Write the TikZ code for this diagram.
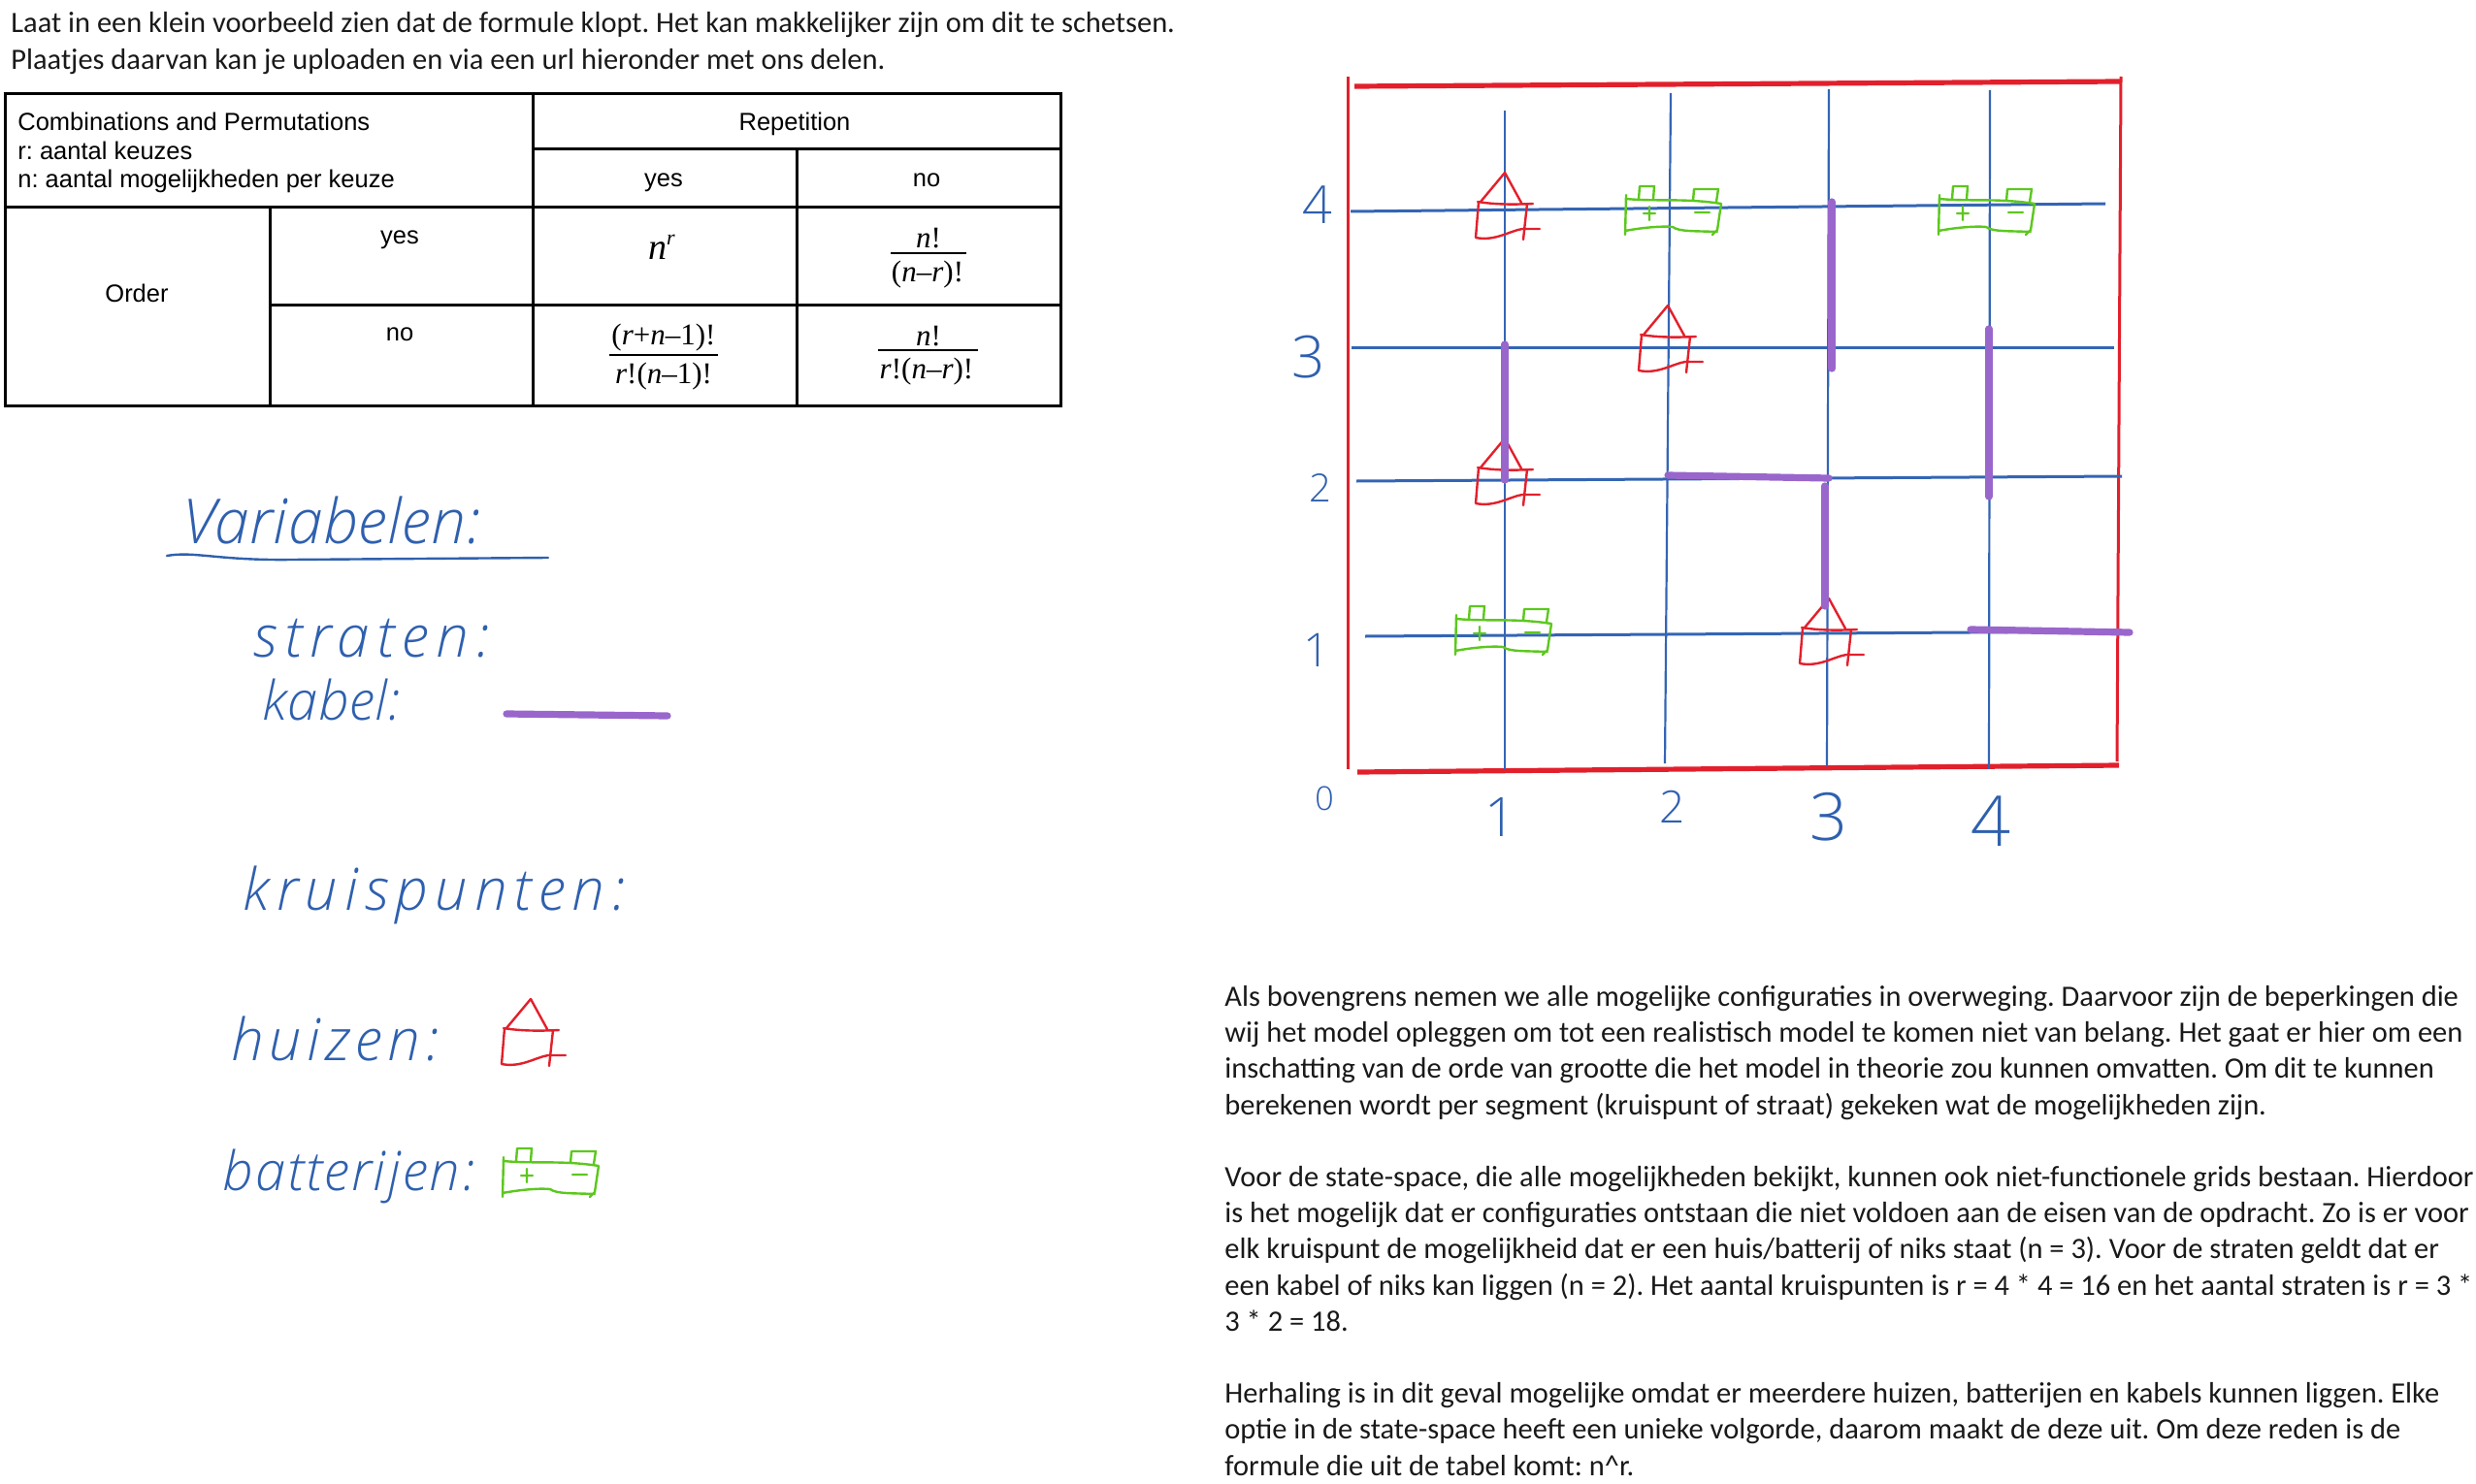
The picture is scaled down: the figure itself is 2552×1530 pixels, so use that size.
\documentclass[tikz,border=0pt]{standalone}
\usepackage{fontspec}
\usepackage{amsmath}
\setmainfont{Carlito}
\newfontfamily\tablefont{Liberation Sans}
\newfontfamily\formulafont{Liberation Serif}
\newfontfamily\handfont[UprightFont=* Light,ItalicFont=* Light Italic]{Open Sans}
\usetikzlibrary{positioning}
\definecolor{handblue}{HTML}{2F60AE}
\definecolor{gridblue}{HTML}{3465B4}
\definecolor{framered}{HTML}{E2202C}
\definecolor{cablepurple}{HTML}{9966CC}
\definecolor{batterygreen}{HTML}{5CC81E}
\tikzset{
  bodytext/.style={anchor=base west,inner sep=0pt,align=left,text=black!90,
    font=\frenchspacing\fontsize{15.23}{18.6}\selectfont},
  celltext/.style={anchor=base,inner sep=0pt,font=\frenchspacing\tablefont\fontsize{12.75}{15}\selectfont},
  formula/.style={anchor=base,inner sep=0pt,font=\formulafont\fontsize{15.5}{18}\selectfont},
  tableline/.style={draw=black,line width=1.5pt},
  hand/.style 2 args={anchor=base west,inner sep=0pt,text=handblue,
    font=\handfont\itshape\fontsize{#1}{#1}\selectfont\addfontfeature{LetterSpace=#2}},
  axislabel/.style={anchor=center,inner sep=0pt,text=handblue,
    font=\handfont\fontsize{#1}{#1}\selectfont},
  street/.style={draw=gridblue,line width=1.1pt},
  streeth/.style={draw=gridblue,line width=1.5pt},
  frameline/.style={draw=framered,line width=#1},
  cable/.style={draw=cablepurple,line width=3.6pt,line cap=round},
  huis/.pic={
    \draw[framered,line width=1.2pt,line cap=round,line join=round]
      (-25,30) -- (0,0) -- (17,31)
      (-28,30) .. controls (-10,33) and (10,33) .. (29,32)
      (-27,30) -- (-30,67)
      (23,32) -- (19,69)
      (-30,67) .. controls (-10,71) and (5,60) .. (18,58) -- (36,58);
  },
  batterij/.pic={
    \draw[batterygreen,line width=1.2pt,line cap=round,line join=round]
      (0,-4) -- (-1,37)
      (0,0) .. controls (30,3) and (60,-1) .. (98,5)
      (98,5) -- (94,32) -- (89,37)
      (-1,33) .. controls (20,29) and (40,28) .. (48,29) .. controls (55,34) and (70,33) .. (94,34)
      (13,0) -- (14,-13) -- (29,-13) -- (28,0)
      (69,2) -- (70,-10) -- (95,-10) -- (93,3)
      (18,15) -- (30,15) (24,8) -- (24,22)
      (71,14) -- (86,14);
  },
}
\begin{document}
\begin{tikzpicture}[x=0.5pt,y=-0.5pt]
  \useasboundingbox (0,0) rectangle (2552,1530);
  \clip (0,0) rectangle (2552,1530);

  % Text above the table
  \node[bodytext] (intro) at (11,34) {Laat in een klein voorbeeld zien dat de formule klopt. Het kan makkelijker zijn om dit te schetsen.};
  \node[bodytext] (introb) at (11,72) {Plaatjes daarvan kan je uploaden en via een url hieronder met ons delen.};

  % Table lines
  \path[tableline] (5,97) rectangle (1093,418);
  \path[tableline] (549,97) -- (549,418)
    (821,154) -- (821,418)
    (278,214) -- (278,418)
    (549,154) -- (1093,154)
    (5,214) -- (1093,214)
    (278,314) -- (1093,314);

  % Table texts
  \node[celltext,anchor=base west] (titel) at (18,135) {Combinations and Permutations};
  \node[celltext,anchor=base west] (keuzes) at (18,165) {r: aantal keuzes};
  \node[celltext,anchor=base west] (mogelijk) at (18,194) {n: aantal mogelijkheden per keuze};
  \node[celltext] (rep) at (819,135) {Repetition};
  \node[celltext] (repyes) at (684,193) {yes};
  \node[celltext] (repno) at (955,193) {no};
  \node[celltext] (order) at (141,311) {Order};
  \node[celltext] (ordyes) at (412,251) {yes};
  \node[celltext] (ordno) at (412,351) {no};

  % Formulas
  \node[formula,font=\formulafont\fontsize{19}{22}\selectfont] (nr) at (682,268) {\textit{n\raisebox{8pt}{\fontsize{11}{12}\selectfont r}}};
  \node[formula] (fana) at (957,256) {\textit{n}!};
  \node[formula] (fand) at (956,290) {(\textit{n}–\textit{r})!};
  \node[formula] (fbna) at (684,355) {(\textit{r}+\textit{n}–1)!};
  \node[formula] (fbnd) at (684,395) {\textit{r}!(\textit{n}–1)!};
  \node[formula] (fcna) at (957,356) {\textit{n}!};
  \node[formula] (fcnd) at (955,390) {\textit{r}!(\textit{n}–\textit{r})!};
  \draw[line width=1.1pt] (918,261) -- (996,261);
  \draw[line width=1.1pt] (628,366) -- (740,366);
  \draw[line width=1.1pt] (905,361) -- (1008,361);

  % Left column
  \node[hand={32}{1}] (variabelen) at (188,560) {Variabelen:};
  \coordinate (ula) at (172,573);
  \coordinate (ulb) at (565,575);
  \draw[handblue,line width=1.2pt,line cap=round] (ula) .. controls (200,568) and (225,578) .. (300,577) -- (ulb);
  \node[hand={30}{13}] (straten) at (261,677) {straten:};
  \node[hand={28}{1}] (kabel) at (270,742) {kabel:};
  \coordinate (kabela) at (522,736);
  \coordinate (kabelb) at (688,738);
  \draw[cable] (kabela) -- (kabelb);
  \node[hand={30}{12}] (kruispunten) at (250,938) {kruispunten:};
  \node[hand={30}{9}] (huizen) at (238,1093) {huizen:};
  \node[hand={28}{4}] (batterijen) at (229,1227) {batterijen:};
  \pic (huislegend) at (547,1030) {huis};
  \pic (batlegend) at (519,1197) {batterij};

  % Frame corners and street ends
  \coordinate (fla) at (1389,79);
  \coordinate (flb) at (1389,793);
  \coordinate (fra) at (2186,79);
  \coordinate (frb) at (2182,785);
  \coordinate (fta) at (1396,89);
  \coordinate (ftb) at (2186,84);
  \coordinate (fba) at (1399,796);
  \coordinate (fbb) at (2184,789);
  \coordinate (va) at (1551,114);
  \coordinate (vb) at (1551,793);
  \coordinate (wa) at (1722,96);
  \coordinate (wb) at (1716,787);
  \coordinate (xa) at (1885,92);
  \coordinate (xb) at (1883,790);
  \coordinate (ya) at (2051,93);
  \coordinate (yb) at (2050,793);
  \coordinate (ha) at (1392,218);
  \coordinate (hb) at (2170,210);
  \coordinate (ia) at (1393,358);
  \coordinate (ib) at (2179,358);
  \coordinate (ja) at (1398,496);
  \coordinate (jb) at (2187,491);
  \coordinate (ka) at (1407,656);
  \coordinate (kb) at (2185,651);

  % Draw frame and streets
  \path
    (fla) edge[frameline=1.5pt] (flb)
    (fra) edge[frameline=1.5pt] (frb)
    (fta) edge[frameline=2.6pt] (ftb)
    (fba) edge[frameline=2.6pt] (fbb)
    (va) edge[street] (vb)
    (wa) edge[street] (wb)
    (xa) edge[street] (xb)
    (ya) edge[street] (yb)
    (ha) edge[streeth] (hb)
    (ia) edge[streeth] (ib)
    (ja) edge[streeth] (jb)
    (ka) edge[streeth] (kb);

  % Houses and batteries
  \pic (huisa) at (1551,178) {huis};
  \pic (huisb) at (1719,315) {huis};
  \pic (huisc) at (1551,452) {huis};
  \pic (huisd) at (1885,617) {huis};
  \pic (bata) at (1676,205) {batterij};
  \pic (batb) at (1999,205) {batterij};
  \pic (batc) at (1501,638) {batterij};

  % Cables
  \coordinate (ca) at (1551,355);
  \coordinate (cb) at (1551,495);
  \coordinate (da) at (1888,208);
  \coordinate (db) at (1888,380);
  \coordinate (ea) at (2050,339);
  \coordinate (eb) at (2050,512);
  \coordinate (fa) at (1719,490);
  \coordinate (fb) at (1885,493);
  \coordinate (ga) at (1881,501);
  \coordinate (gb) at (1881,625);
  \coordinate (ma) at (2031,649);
  \coordinate (mb) at (2195,652);
  \path
    (ca) edge[cable] (cb)
    (da) edge[cable] (db)
    (ea) edge[cable] (eb)
    (fa) edge[cable] (fb)
    (ga) edge[cable] (gb)
    (ma) edge[cable] (mb);

  % Axis numbers
  \node[axislabel=27] (rowfour) at (1358,211) {4};
  \node[axislabel=30] (rowthree) at (1349,368) {3};
  \node[axislabel=20] (rowtwo) at (1361,503) {2};
  \node[axislabel=24] (rowone) at (1357,670) {1};
  \node[axislabel=17] (origin) at (1365,823) {0};
  \node[axislabel=28] (colone) at (1546,843) {1};
  \node[axislabel=23] (coltwo) at (1724,832) {2};
  \node[axislabel=34] (colthree) at (1885,842) {3};
  \node[axislabel=36] (colfour) at (2052,847) {4};

  % Text below the grid
  \node[bodytext] (uitleg) at (1262,1521) {Als bovengrens nemen we alle mogelijke configuraties in overweging. Daarvoor zijn de beperkingen die\\
wij het model opleggen om tot een realistisch model te komen niet van belang. Het gaat er hier om een\\
inschatting van de orde van grootte die het model in theorie zou kunnen omvatten. Om dit te kunnen\\
berekenen wordt per segment (kruispunt of straat) gekeken wat de mogelijkheden zijn.\\
\mbox{}\\
Voor de state-space, die alle mogelijkheden bekijkt, kunnen ook niet-functionele grids bestaan. Hierdoor\\
is het mogelijk dat er configuraties ontstaan die niet voldoen aan de eisen van de opdracht. Zo is er voor\\
elk kruispunt de mogelijkheid dat er een huis/batterij of niks staat (n = 3). Voor de straten geldt dat er\\
een kabel of niks kan liggen (n = 2). Het aantal kruispunten is r = 4 * 4 = 16 en het aantal straten is r = 3 *\\
3 * 2 = 18.\\
\mbox{}\\
Herhaling is in dit geval mogelijke omdat er meerdere huizen, batterijen en kabels kunnen liggen. Elke\\
optie in de state-space heeft een unieke volgorde, daarom maakt de deze uit. Om deze reden is de\\
formule die uit de tabel komt: n\^{}r.};
\end{tikzpicture}
\end{document}
